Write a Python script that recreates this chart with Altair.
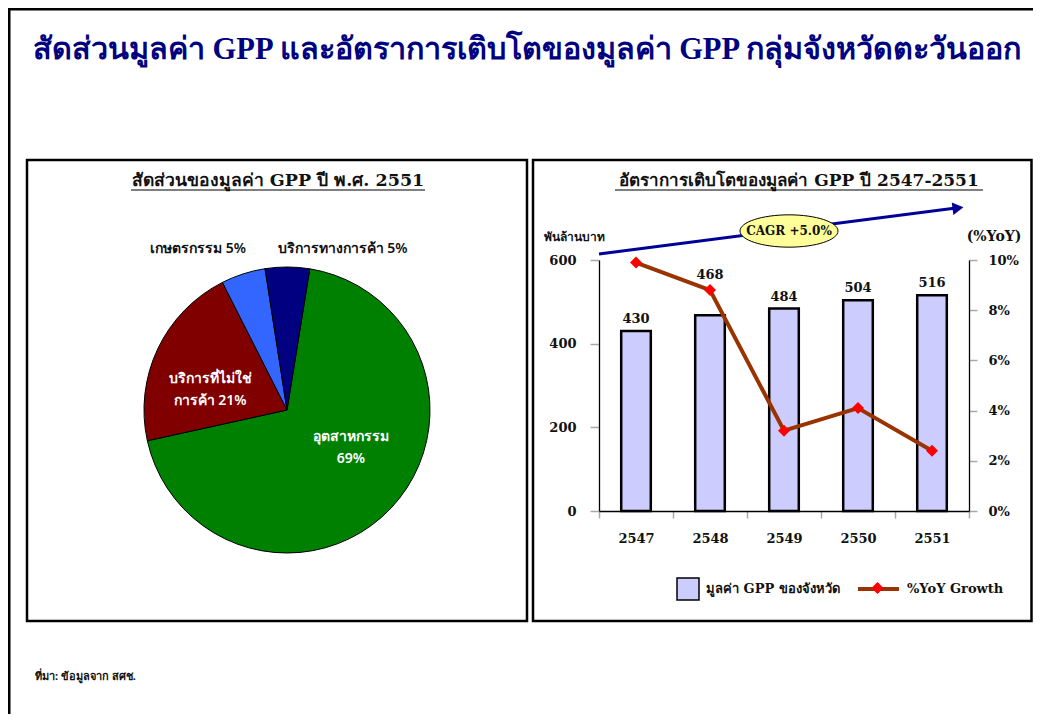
import math
import altair as alt
import pandas as pd

# ---------------- data ----------------
main_title = ["สัดส่วนมูลค่า GPP และอัตราการเติบโตของมูลค่า GPP กลุ่มจังหวัดตะวันออก"]
pie_title = ["สัดส่วนของมูลค่า GPP ปี พ.ศ. 2551"]
bar_title = ["อัตราการเติบโตของมูลค่า GPP ปี 2547-2551"]
source_note = ["ที่มา: ข้อมูลจาก สศช."]

pie_cats = ["อุตสาหกรรม", "บริการที่ไม่ใช่การค้า", "เกษตรกรรม", "บริการทางการค้า"]
pie_vals = [69, 21, 5, 5]
pie_labels = ["อุตสาหกรรม\n69%", "บริการที่ไม่ใช่\nการค้า 21%", "เกษตรกรรม 5%", "บริการทางการค้า 5%"]
pie_order = [0, 1, 2, 3]
pie_colors = ["#008000", "#800000", "#3366FF", "#000080"]

years = ["2547", "2548", "2549", "2550", "2551"]
gpp = [430, 468, 484, 504, 516]
yoy = [0.099, 0.088, 0.032, 0.041, 0.024]
raised_label_year = "2548"   # label lifted above the growth line
y_left_ticks = [0, 200, 400, 600]
y_right_ticks = [0, 0.02, 0.04, 0.06, 0.08, 0.10]
left_unit = ["พันล้านบาท"]
right_unit = ["(%YoY)"]
cagr_text = ["CAGR +5.0%"]
legend_bar = "มูลค่า GPP ของจังหวัด"
legend_line = "%YoY Growth"

# ---------------- layout ----------------
CW, CH = 1025, 706          # whole canvas
PL, PT = 591, 252           # plot-area origin on canvas
PW, PH = 370, 251           # plot area (bar chart)
SERIF = "DejaVu Serif"
SANS = "Noto Sans"
DUMMY = alt.Data(values=[{"d": 1}])

def vx(x):
    return x - PL

def vy(y):
    return y - PT

def txt(values, x, y, **kw):
    return alt.Chart(alt.Data(values=[{"t": v} for v in values])).mark_text(**kw).encode(
        text="t:N", x=alt.value(vx(x)), y=alt.value(vy(y)))

def rule(x, x2, y, y2, color="black", width=1.0):
    return alt.Chart(DUMMY).mark_rule(color=color, strokeWidth=width).encode(
        x=alt.value(vx(x)), x2=alt.value(vx(x2)), y=alt.value(vy(y)), y2=alt.value(vy(y2)))

def box(x, x2, y, y2, width=2.5):
    return alt.Chart(DUMMY).mark_rect(fill="transparent", fillOpacity=0, stroke="black",
                                      strokeWidth=width).encode(
        x=alt.value(vx(x)), x2=alt.value(vx(x2)), y=alt.value(vy(y)), y2=alt.value(vy(y2)))

# ---------------- frame ----------------
frame = [
    rule(1, 1, 0, CH, width=3),
    rule(0, CW, 1, 1, width=3),
    box(19, 519, 152, 613),
    box(525, 1023.5, 152, 613),
]

title_layer = txt(main_title, 519, 42, font="Liberation Serif", fontSize=30.5, fontWeight="bold",
                  color="#000080", align="center", baseline="middle")

pie_title_layer = txt(pie_title, 270, 173, font=SERIF, fontSize=17.5, fontWeight="bold",
                      color="#111", align="center", baseline="middle")
pie_ul = rule(123, 417, 182, 182, width=1.2)
bar_title_layer = txt(bar_title, 791, 173, font=SERIF, fontSize=17, fontWeight="bold",
                      color="#111", align="center", baseline="middle")
bar_ul = rule(607, 975, 182, 182, width=1.2)

source_layer = txt(source_note, 27, 669, font=SANS, fontSize=11, fontWeight="bold",
                   color="#111", align="left", baseline="middle")

# ---------------- pie ----------------
CX, CY, R = 279, 402, 143
pie_df = pd.DataFrame({"cat": pie_cats, "val": pie_vals, "order": pie_order, "label": pie_labels})
theta_scale = alt.Scale(domain=[0, 100], range=[0.16, 0.16 + 2 * math.pi])

pie = alt.Chart(pie_df).mark_arc(radius=R, stroke="#000", strokeWidth=1).encode(
    theta=alt.Theta("val:Q", stack=True, scale=theta_scale),
    color=alt.Color("cat:N", scale=alt.Scale(domain=pie_cats, range=pie_colors), legend=None),
    order=alt.Order("order:Q"),
    x=alt.value(vx(CX)), y=alt.value(vy(CY)),
)

def pie_label(cat, r, dx, dy, color):
    return alt.Chart(pie_df).transform_calculate(
        lbl=f"datum.cat == '{cat}' ? datum.label : ''"
    ).mark_text(radius=r, dx=dx, dy=dy, color=color, font=SANS, fontSize=14, fontWeight=600,
                lineBreak="\n", lineHeight=22, align="center", baseline="middle").encode(
        theta=alt.Theta("val:Q", stack=True, scale=theta_scale),
        order=alt.Order("order:Q"),
        text="lbl:N",
        x=alt.value(vx(CX)), y=alt.value(vy(CY)),
    )

pie_labels_layers = [
    pie_label(pie_cats[0], 70, 13, -21, "white"),
    pie_label(pie_cats[1], 83, -2, 5, "white"),
    pie_label(pie_cats[2], 170, -37, 1, "#111"),
    pie_label(pie_cats[3], 165, 55, 4, "#111"),
]

# ---------------- bar + line ----------------
bar_df = pd.DataFrame({"year": years, "gpp": gpp, "yoy": yoy,
                       "s1": [legend_bar] * len(years), "s2": [legend_line] * len(years),
                       "s3": [legend_line] * len(years)})

xs = alt.Scale(domain=years, paddingInner=0, paddingOuter=0)
ys_left = alt.Scale(domain=[0, 600], nice=False)
ys_right = alt.Scale(domain=[0, 0.10], nice=False)

axis_common = dict(domainColor="black", domainWidth=1.3, tickColor="#A8A8A8", tickWidth=1.5,
                   labelFont=SERIF, labelFontSize=13, labelFontWeight="bold", labelColor="#111",
                   grid=False, title=None, zindex=1)

x_axis = alt.Axis(orient="bottom", tickBand="extent", labelAngle=0,
                  tickSize=7, labelPadding=14, **axis_common)
yl_axis = alt.Axis(orient="left", values=y_left_ticks, tickSize=9, labelPadding=14,
                   **axis_common)
yr_axis = alt.Axis(orient="right", values=y_right_ticks, format=".0%",
                   tickSize=8, labelPadding=11, **axis_common)

bars = alt.Chart(bar_df).mark_bar(stroke="black", strokeWidth=2.5,
                                  width=alt.RelativeBandSize(0.4)).encode(
    x=alt.X("year:N", scale=xs, axis=x_axis),
    y=alt.Y("gpp:Q", scale=ys_left, axis=yl_axis),
    fill=alt.Fill("s1:N", scale=alt.Scale(domain=[legend_bar], range=["#CCCCFF"]),
                  legend=alt.Legend(orient="none", legendX=vx(668), legendY=vy(569), title=None,
                                    symbolType="square", symbolSize=484,
                                    symbolStrokeColor="black", symbolStrokeWidth=1.5,
                                    labelFont=SERIF, labelFontSize=13, labelFontWeight="bold",
                                    labelColor="#111", labelOffset=6, padding=0)),
)

def bar_text(filter_expr, dy):
    return alt.Chart(bar_df).transform_filter(filter_expr).mark_text(
        font=SERIF, fontSize=13, fontWeight="bold", color="#111", baseline="bottom", dy=dy
    ).encode(
        x=alt.X("year:N", scale=xs, axis=x_axis),
        y=alt.Y("gpp:Q", scale=ys_left, axis=yl_axis),
        text=alt.Text("gpp:Q"),
    )

bar_labels = bar_text(f"datum.year != '{raised_label_year}'", -5)
bar_label_raised = bar_text(f"datum.year == '{raised_label_year}'", -33)
bar_layer = alt.layer(bars, bar_labels, bar_label_raised)

line = alt.Chart(bar_df).mark_line(strokeWidth=4).encode(
    x=alt.X("year:N", scale=xs, axis=x_axis),
    y=alt.Y("yoy:Q", scale=ys_right, axis=yr_axis),
    stroke=alt.Stroke("s2:N", scale=alt.Scale(domain=[legend_line], range=["#993300"]),
                      legend=alt.Legend(orient="none", legendX=vx(848), legendY=vy(558.5),
                                        title=None, symbolType="stroke", symbolSize=1681,
                                        symbolStrokeWidth=4, labelFont=SERIF, labelFontSize=13,
                                        labelFontWeight="bold", labelColor="#111",
                                        labelOffset=6, padding=0)),
)
points = alt.Chart(bar_df).mark_point(filled=True, size=144, color="#FF0000", opacity=1).encode(
    x=alt.X("year:N", scale=xs, axis=x_axis),
    y=alt.Y("yoy:Q", scale=ys_right, axis=yr_axis),
    shape=alt.Shape("s3:N", scale=alt.Scale(range=["diamond"]),
                    legend=alt.Legend(orient="none", legendX=vx(862.5), legendY=vy(573),
                                      title=None, symbolSize=144, symbolFillColor="#FF0000",
                                      symbolStrokeColor="#FF0000", labelExpr="''",
                                      padding=0, labelOffset=0)),
)
line_layer = alt.layer(line, points)

units = [
    txt(left_unit, 566, 229, font=SANS, fontSize=12, fontWeight="bold", color="#111",
        align="center", baseline="middle"),
    txt(right_unit, 986, 229, font=SERIF, fontSize=14, fontWeight="bold", color="#111",
        align="center", baseline="middle"),
]

# CAGR arrow + bubble
arrow = [
    rule(591, 948, 246, 200, color="#000099", width=3),
    alt.Chart(DUMMY).mark_point(shape="triangle-right", filled=True, color="#000099", size=160,
                                angle=352.6, opacity=1).encode(x=alt.value(vx(950)),
                                                               y=alt.value(vy(200))),
    alt.Chart(DUMMY).mark_point(shape="M -1 0 A 1 0.33 0 1 1 1 0 A 1 0.33 0 1 1 -1 0 Z",
                                filled=True, fill="#FFFF99", stroke="black", strokeWidth=1,
                                size=9604, opacity=1).encode(x=alt.value(vx(781)),
                                                             y=alt.value(vy(223))),
    txt(cagr_text, 781, 223, font=SERIF, fontSize=12, fontWeight="bold", color="#111",
        align="center", baseline="middle"),
]

chart = alt.layer(
    *frame, title_layer, pie_title_layer, pie_ul, bar_title_layer, bar_ul, source_layer,
    pie, *pie_labels_layers,
    bar_layer, line_layer, *units, *arrow,
).resolve_scale(y="independent").properties(
    width=PW, height=PH, autosize="none", background="white",
    padding={"left": PL, "top": PT, "right": CW - PL - PW, "bottom": CH - PT - PH},
).configure_view(stroke=None)

chart.save("out.html", embed_options={"renderer": "svg", "actions": False})
